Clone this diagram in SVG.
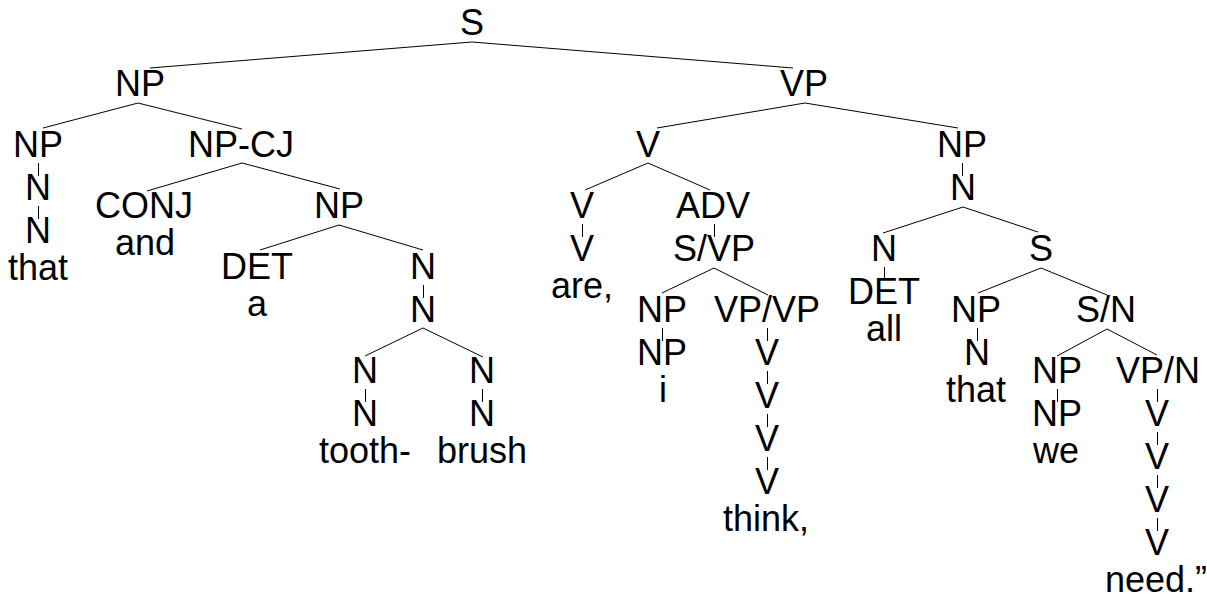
<svg xmlns="http://www.w3.org/2000/svg" width="1207" height="599" viewBox="0 0 1207 599">
<style>
text{font-family:"Liberation Sans",Arial,sans-serif;font-size:36px;text-anchor:middle;fill:#000}
.e line{stroke:#000;stroke-width:1;fill:none}
</style>
<rect width="1207" height="599" fill="#fff"/>
<g id="connectors" class="e">
<line x1="472" y1="42" x2="150" y2="68"/>
<line x1="472" y1="42" x2="793" y2="68"/>
<line x1="138" y1="103" x2="43" y2="128"/>
<line x1="138" y1="103" x2="242" y2="129"/>
<line x1="242" y1="163" x2="147" y2="191"/>
<line x1="242" y1="163" x2="340" y2="189"/>
<line x1="339" y1="225" x2="260" y2="250"/>
<line x1="339" y1="225" x2="423" y2="250"/>
<line x1="423" y1="328" x2="365" y2="356"/>
<line x1="423" y1="328" x2="483" y2="357"/>
<line x1="805" y1="103" x2="657" y2="128"/>
<line x1="805" y1="103" x2="958" y2="128"/>
<line x1="648" y1="163" x2="585" y2="190"/>
<line x1="648" y1="163" x2="710" y2="190"/>
<line x1="714" y1="268" x2="662" y2="293"/>
<line x1="714" y1="268" x2="768" y2="295"/>
<line x1="963" y1="207" x2="883" y2="233"/>
<line x1="963" y1="207" x2="1038" y2="232"/>
<line x1="1041" y1="268" x2="978" y2="293"/>
<line x1="1041" y1="268" x2="1107" y2="295"/>
<line x1="1107" y1="329" x2="1057" y2="356"/>
<line x1="1107" y1="329" x2="1157" y2="355"/>
<line x1="38.5" y1="163" x2="38.5" y2="176"/>
<line x1="38.5" y1="206" x2="38.5" y2="219"/>
<line x1="423.5" y1="285" x2="423.5" y2="298"/>
<line x1="365.5" y1="389" x2="365.5" y2="402"/>
<line x1="482.5" y1="389" x2="482.5" y2="402"/>
<line x1="582.5" y1="224" x2="582.5" y2="237"/>
<line x1="714.5" y1="224" x2="714.5" y2="237"/>
<line x1="662.5" y1="328" x2="662.5" y2="341"/>
<line x1="767.5" y1="328" x2="767.5" y2="341"/>
<line x1="767.5" y1="371" x2="767.5" y2="384"/>
<line x1="767.5" y1="414" x2="767.5" y2="427"/>
<line x1="767.5" y1="457" x2="767.5" y2="470"/>
<line x1="962.5" y1="163" x2="962.5" y2="176"/>
<line x1="884.5" y1="267" x2="884.5" y2="280"/>
<line x1="977.5" y1="328" x2="977.5" y2="341"/>
<line x1="1057.5" y1="389" x2="1057.5" y2="402"/>
<line x1="1157.5" y1="389" x2="1157.5" y2="402"/>
<line x1="1157.5" y1="432" x2="1157.5" y2="445"/>
<line x1="1157.5" y1="475" x2="1157.5" y2="488"/>
<line x1="1157.5" y1="518" x2="1157.5" y2="531"/>
</g>
<g id="n_S"><text x="472" y="35">S</text></g>
<g id="n_NP_subj"><text x="140" y="96">NP</text></g>
<g id="n_VP"><text x="804" y="96">VP</text></g>
<g id="n_NP_that"><text x="38" y="157">NP</text><text x="38" y="200">N</text><text x="38" y="243">N</text><text x="38" y="280">that</text></g>
<g id="n_NPCJ"><text x="241" y="157">NP-CJ</text></g>
<g id="n_CONJ"><text x="144" y="218">CONJ</text><text x="145" y="255">and</text></g>
<g id="n_NP_tb"><text x="339" y="218">NP</text></g>
<g id="n_DET_a"><text x="257" y="279">DET</text><text x="257" y="316">a</text></g>
<g id="n_N_tb"><text x="423" y="279">N</text><text x="423" y="322">N</text></g>
<g id="n_N_tooth"><text x="365" y="383">N</text><text x="365" y="426">N</text><text x="365" y="463">tooth-</text></g>
<g id="n_N_brush"><text x="482" y="383">N</text><text x="482" y="426">N</text><text x="482" y="463">brush</text></g>
<g id="n_V"><text x="648" y="157">V</text></g>
<g id="n_V_are"><text x="582" y="218">V</text><text x="582" y="261">V</text><text x="582" y="298">are,</text></g>
<g id="n_ADV"><text x="713" y="218">ADV</text><text x="714" y="261">S/VP</text></g>
<g id="n_NP_i"><text x="662" y="322">NP</text><text x="662" y="365">NP</text><text x="663" y="402">i</text></g>
<g id="n_VPVP"><text x="767" y="322">VP/VP</text><text x="767" y="365">V</text><text x="767" y="408">V</text><text x="767" y="451">V</text><text x="767" y="494">V</text><text x="766" y="531">think,</text></g>
<g id="n_NP_obj"><text x="962" y="157">NP</text><text x="963" y="200">N</text></g>
<g id="n_N_all"><text x="884" y="261">N</text><text x="884" y="304">DET</text><text x="884" y="341">all</text></g>
<g id="n_S_rel"><text x="1041" y="261">S</text></g>
<g id="n_NP_that2"><text x="976" y="322">NP</text><text x="977" y="365">N</text><text x="976" y="402">that</text></g>
<g id="n_SN"><text x="1106" y="322">S/N</text></g>
<g id="n_NP_we"><text x="1057" y="383">NP</text><text x="1057" y="426">NP</text><text x="1056" y="463">we</text></g>
<g id="n_VPN"><text x="1158" y="383">VP/N</text><text x="1157" y="426">V</text><text x="1157" y="469">V</text><text x="1157" y="512">V</text><text x="1157" y="555">V</text><text x="1156" y="592">need.”</text></g>
</svg>
